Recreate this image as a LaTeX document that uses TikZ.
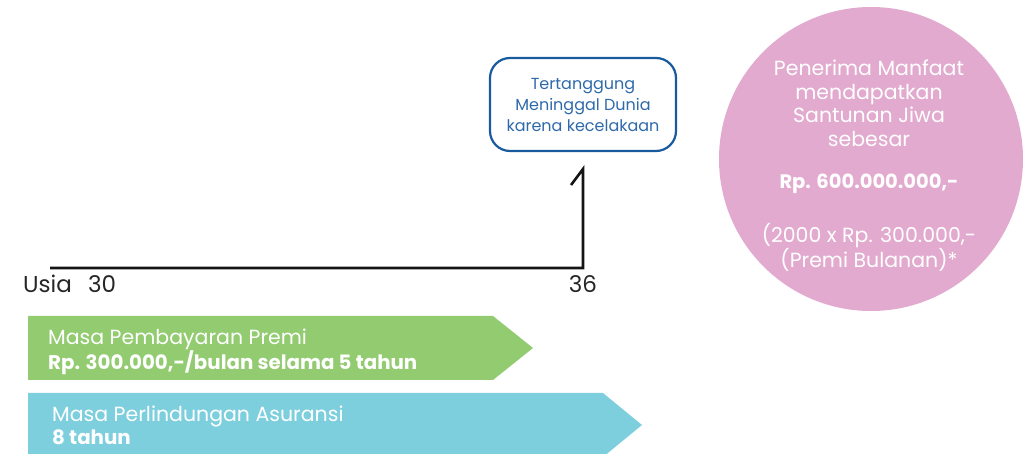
\documentclass[tikz,border=0pt]{standalone}
\usepackage{fontspec}
\setmainfont{Poppins}
\definecolor{bargreen}{HTML}{92CB70}
\definecolor{barblue}{HTML}{7DCFDE}
\definecolor{benefitpink}{HTML}{E2AACE}
\definecolor{boxblue}{HTML}{185A9D}
\definecolor{boxtext}{HTML}{2E69AA}
\begin{document}
\begin{tikzpicture}[x=1pt,y=-1pt,
  agelbl/.style={inner sep=0pt, font=\fontsize{23}{27}\selectfont, text=black!85},
  eventbox/.style={draw=boxblue, line width=2.2pt, rounded corners=20pt,
    minimum width=186pt, minimum height=93pt, align=center, text=boxtext,
    font=\fontsize{16}{21}\selectfont, inner sep=0pt},
  benefitcirc/.style={circle, fill=benefitpink, minimum size=304pt, inner sep=0pt},
  benefittxt/.style={align=center, text=white, font=\fontsize{20.5}{23.5}\selectfont, inner sep=0pt},
  bartxt/.style={align=left, text=white, font=\fontsize{20.5}{23}\selectfont, inner sep=0pt, anchor=north west},
  timeline/.style={line width=2.6pt, draw=black!92}
]
\clip (0,0) rectangle (1029,454);
\useasboundingbox (0,0) rectangle (1029,454);

% timeline
\coordinate (tstart) at (50,268);
\coordinate (tend) at (583,268);
\coordinate (ttop) at (583,169);
\coordinate (thook) at (571,185);
\draw[timeline] (tstart) -- (tend) -- (ttop) -- (thook);

\node[agelbl, anchor=base west] (usia) at (23,293) {Usia};
\node[agelbl, anchor=base west] (age30) at (88,293) {30};
\node[agelbl, anchor=base] (age36) at (583,293) {36};

% event box
\node[eventbox] (event) at (583,104.5) {Tertanggung\\Meninggal Dunia\\karena kecelakaan};

% benefit circle
\node[benefitcirc] (benefit) at (871,159) {};
\node[benefittxt, anchor=north] (benefittext) at (869,60)
  {Penerima Manfaat\\mendapatkan\\Santunan Jiwa\\sebesar\\[19pt]
   {\fontsize{19.5}{23.5}\selectfont\bfseries Rp. 600.000.000,-}\\[28pt]
   (2000 x Rp. 300.000,-\\(Premi Bulanan)*};

% bars
\fill[bargreen] (28,316) -- (493,316) -- (533,348) -- (493,380) -- (28,380) -- cycle;
\fill[barblue] (28,393) -- (603,393) -- (642,425) -- (603,457) -- (28,457) -- cycle;

\node[bartxt] (paytext) at (48,329) {Masa Pembayaran Premi\\{\fontsize{19.8}{23}\selectfont\bfseries Rp. 300.000,-/bulan selama 5 tahun}};
\node[bartxt] (protext) at (52,406) {Masa Perlindungan Asuransi\\{\fontsize{19.8}{23}\selectfont\bfseries 8 tahun}};
\end{tikzpicture}
\end{document}
